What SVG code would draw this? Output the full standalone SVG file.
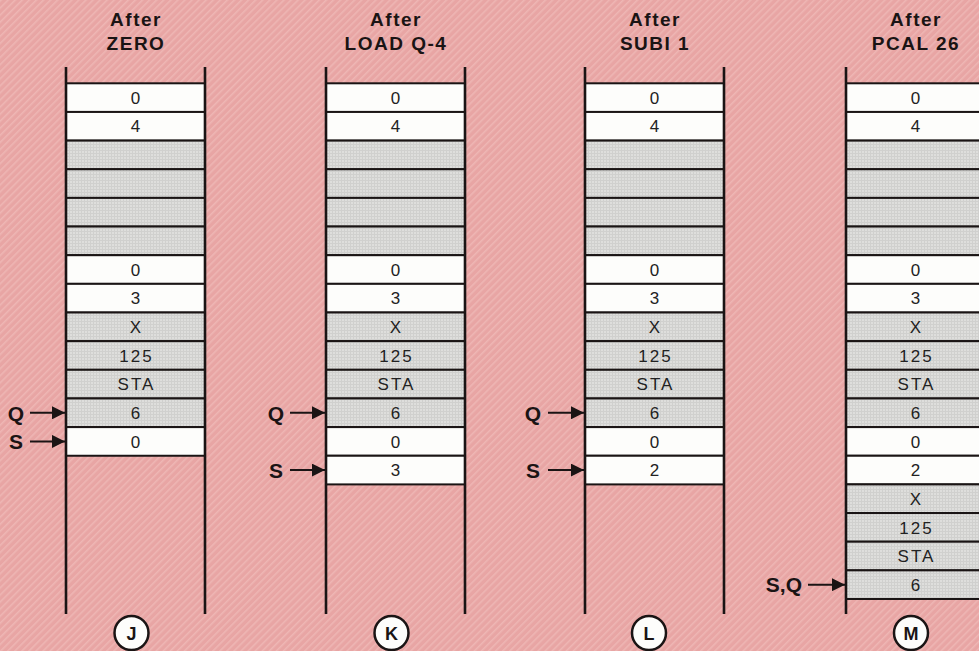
<svg xmlns="http://www.w3.org/2000/svg" width="979" height="651" viewBox="0 0 979 651">
<defs>
<pattern id="bg" width="5" height="5" patternUnits="userSpaceOnUse" patternTransform="rotate(45)">
<rect width="5" height="5" fill="#e8a5a4"/>
<rect width="1.6" height="5" fill="#eeb6b4"/>
</pattern>
<pattern id="grid" width="3" height="3" patternUnits="userSpaceOnUse">
<rect width="3" height="3" fill="#dededc"/>
<path d="M0 0.5H3M0.5 0V3" stroke="#d0d0ce" stroke-width="1"/>
</pattern>
<marker id="ah" markerUnits="userSpaceOnUse" markerWidth="14" markerHeight="13" refX="13" refY="6.5" orient="auto">
<path d="M0 0L13 6.5L0 13Z" fill="#1a1414"/>
</marker>
</defs>
<style>
.w{fill:#fdfdfb;stroke:#1a1414;stroke-width:2}
.g{fill:url(#grid);stroke:#1a1414;stroke-width:2}
.rail{stroke:#1a1414;stroke-width:2.6}
.v{font-family:"Liberation Sans",Arial,sans-serif;font-size:17px;fill:#222;text-anchor:middle;letter-spacing:2px}
.t{font-family:"Liberation Sans",Arial,sans-serif;font-size:19px;font-weight:bold;fill:#1a1414;text-anchor:middle;letter-spacing:1.5px}
.lb{font-family:"Liberation Sans",Arial,sans-serif;font-size:21px;font-weight:bold;fill:#1a1414;text-anchor:end}
.c{fill:#fdfdfb;stroke:#1a1414;stroke-width:2.5}
.cl{font-family:"Liberation Sans",Arial,sans-serif;font-size:18px;font-weight:bold;fill:#1a1414;text-anchor:middle}
.ar{stroke:#1a1414;stroke-width:2;marker-end:url(#ah)}
</style>
<rect width="979" height="651" fill="url(#bg)"/>

<g id="colJ" transform="translate(66,0)">
<text class="t" x="70" y="26">After</text>
<text class="t" x="70" y="50">ZERO</text>
<rect class="w" x="0" y="83.3" width="139" height="28.65"/><text class="v" x="70.5" y="103.8">0</text>
<rect class="w" x="0" y="111.95" width="139" height="28.65"/><text class="v" x="70.5" y="132.45">4</text>
<rect class="g" x="0" y="140.6" width="139" height="28.65"/>
<rect class="g" x="0" y="169.25" width="139" height="28.65"/>
<rect class="g" x="0" y="197.9" width="139" height="28.65"/>
<rect class="g" x="0" y="226.55" width="139" height="28.65"/>
<rect class="w" x="0" y="255.2" width="139" height="28.65"/><text class="v" x="70.5" y="275.7">0</text>
<rect class="w" x="0" y="283.85" width="139" height="28.65"/><text class="v" x="70.5" y="304.35">3</text>
<rect class="g" x="0" y="312.5" width="139" height="28.65"/><text class="v" x="70.5" y="333">X</text>
<rect class="g" x="0" y="341.15" width="139" height="28.65"/><text class="v" x="70.5" y="361.65">125</text>
<rect class="g" x="0" y="369.8" width="139" height="28.65"/><text class="v" x="70.5" y="390.3">STA</text>
<rect class="g" x="0" y="398.45" width="139" height="28.65"/><text class="v" x="70.5" y="418.95">6</text>
<rect class="w" x="0" y="427.1" width="139" height="28.65"/><text class="v" x="70.5" y="447.6">0</text>
<line class="rail" x1="0" y1="67" x2="0" y2="614"/>
<line class="rail" x1="139" y1="67" x2="139" y2="614"/>
<circle class="c" cx="65.5" cy="633" r="17"/><text class="cl" x="65.5" y="639.5">J</text>
</g>

<g id="colK" transform="translate(326,0)">
<text class="t" x="70" y="26">After</text>
<text class="t" x="70" y="50">LOAD Q-4</text>
<rect class="w" x="0" y="83.3" width="139" height="28.65"/><text class="v" x="70.5" y="103.8">0</text>
<rect class="w" x="0" y="111.95" width="139" height="28.65"/><text class="v" x="70.5" y="132.45">4</text>
<rect class="g" x="0" y="140.6" width="139" height="28.65"/>
<rect class="g" x="0" y="169.25" width="139" height="28.65"/>
<rect class="g" x="0" y="197.9" width="139" height="28.65"/>
<rect class="g" x="0" y="226.55" width="139" height="28.65"/>
<rect class="w" x="0" y="255.2" width="139" height="28.65"/><text class="v" x="70.5" y="275.7">0</text>
<rect class="w" x="0" y="283.85" width="139" height="28.65"/><text class="v" x="70.5" y="304.35">3</text>
<rect class="g" x="0" y="312.5" width="139" height="28.65"/><text class="v" x="70.5" y="333">X</text>
<rect class="g" x="0" y="341.15" width="139" height="28.65"/><text class="v" x="70.5" y="361.65">125</text>
<rect class="g" x="0" y="369.8" width="139" height="28.65"/><text class="v" x="70.5" y="390.3">STA</text>
<rect class="g" x="0" y="398.45" width="139" height="28.65"/><text class="v" x="70.5" y="418.95">6</text>
<rect class="w" x="0" y="427.1" width="139" height="28.65"/><text class="v" x="70.5" y="447.6">0</text>
<rect class="w" x="0" y="455.75" width="139" height="28.65"/><text class="v" x="70.5" y="476.25">3</text>
<line class="rail" x1="0" y1="67" x2="0" y2="614"/>
<line class="rail" x1="139" y1="67" x2="139" y2="614"/>
<circle class="c" cx="65.5" cy="633" r="17"/><text class="cl" x="65.5" y="639.5">K</text>
</g>

<g id="colL" transform="translate(585,0)">
<text class="t" x="70" y="26">After</text>
<text class="t" x="70" y="50">SUBI 1</text>
<rect class="w" x="0" y="83.3" width="139" height="28.65"/><text class="v" x="70.5" y="103.8">0</text>
<rect class="w" x="0" y="111.95" width="139" height="28.65"/><text class="v" x="70.5" y="132.45">4</text>
<rect class="g" x="0" y="140.6" width="139" height="28.65"/>
<rect class="g" x="0" y="169.25" width="139" height="28.65"/>
<rect class="g" x="0" y="197.9" width="139" height="28.65"/>
<rect class="g" x="0" y="226.55" width="139" height="28.65"/>
<rect class="w" x="0" y="255.2" width="139" height="28.65"/><text class="v" x="70.5" y="275.7">0</text>
<rect class="w" x="0" y="283.85" width="139" height="28.65"/><text class="v" x="70.5" y="304.35">3</text>
<rect class="g" x="0" y="312.5" width="139" height="28.65"/><text class="v" x="70.5" y="333">X</text>
<rect class="g" x="0" y="341.15" width="139" height="28.65"/><text class="v" x="70.5" y="361.65">125</text>
<rect class="g" x="0" y="369.8" width="139" height="28.65"/><text class="v" x="70.5" y="390.3">STA</text>
<rect class="g" x="0" y="398.45" width="139" height="28.65"/><text class="v" x="70.5" y="418.95">6</text>
<rect class="w" x="0" y="427.1" width="139" height="28.65"/><text class="v" x="70.5" y="447.6">0</text>
<rect class="w" x="0" y="455.75" width="139" height="28.65"/><text class="v" x="70.5" y="476.25">2</text>
<line class="rail" x1="0" y1="67" x2="0" y2="614"/>
<line class="rail" x1="139" y1="67" x2="139" y2="614"/>
<circle class="c" cx="64" cy="633" r="17"/><text class="cl" x="64" y="639.5">L</text>
</g>

<g id="colM" transform="translate(846,0)">
<text class="t" x="70" y="26">After</text>
<text class="t" x="70" y="50">PCAL 26</text>
<rect class="w" x="0" y="83.3" width="139" height="28.65"/><text class="v" x="70.5" y="103.8">0</text>
<rect class="w" x="0" y="111.95" width="139" height="28.65"/><text class="v" x="70.5" y="132.45">4</text>
<rect class="g" x="0" y="140.6" width="139" height="28.65"/>
<rect class="g" x="0" y="169.25" width="139" height="28.65"/>
<rect class="g" x="0" y="197.9" width="139" height="28.65"/>
<rect class="g" x="0" y="226.55" width="139" height="28.65"/>
<rect class="w" x="0" y="255.2" width="139" height="28.65"/><text class="v" x="70.5" y="275.7">0</text>
<rect class="w" x="0" y="283.85" width="139" height="28.65"/><text class="v" x="70.5" y="304.35">3</text>
<rect class="g" x="0" y="312.5" width="139" height="28.65"/><text class="v" x="70.5" y="333">X</text>
<rect class="g" x="0" y="341.15" width="139" height="28.65"/><text class="v" x="70.5" y="361.65">125</text>
<rect class="g" x="0" y="369.8" width="139" height="28.65"/><text class="v" x="70.5" y="390.3">STA</text>
<rect class="g" x="0" y="398.45" width="139" height="28.65"/><text class="v" x="70.5" y="418.95">6</text>
<rect class="w" x="0" y="427.1" width="139" height="28.65"/><text class="v" x="70.5" y="447.6">0</text>
<rect class="w" x="0" y="455.75" width="139" height="28.65"/><text class="v" x="70.5" y="476.25">2</text>
<rect class="g" x="0" y="484.4" width="139" height="28.65"/><text class="v" x="70.5" y="504.9">X</text>
<rect class="g" x="0" y="513.05" width="139" height="28.65"/><text class="v" x="70.5" y="533.55">125</text>
<rect class="g" x="0" y="541.7" width="139" height="28.65"/><text class="v" x="70.5" y="562.2">STA</text>
<rect class="g" x="0" y="570.35" width="139" height="28.65"/><text class="v" x="70.5" y="590.85">6</text>
<line class="rail" x1="0" y1="67" x2="0" y2="614"/>
<line class="rail" x1="139" y1="67" x2="139" y2="614"/>
<circle class="c" cx="65" cy="633" r="17"/><text class="cl" x="65" y="639.5">M</text>
</g>

<g id="connectors">
<text class="lb" x="24" y="420.5">Q</text><line class="ar" x1="30" y1="412.8" x2="65" y2="412.8"/>
<text class="lb" x="23" y="449">S</text><line class="ar" x1="30" y1="441.4" x2="65" y2="441.4"/>
<text class="lb" x="284" y="420.5">Q</text><line class="ar" x1="290" y1="412.8" x2="325" y2="412.8"/>
<text class="lb" x="283" y="477.5">S</text><line class="ar" x1="290" y1="470.1" x2="325" y2="470.1"/>
<text class="lb" x="541" y="420.5">Q</text><line class="ar" x1="548" y1="412.8" x2="584" y2="412.8"/>
<text class="lb" x="540" y="477.5">S</text><line class="ar" x1="548" y1="470.1" x2="584" y2="470.1"/>
<text class="lb" x="802" y="592.3">S,Q</text><line class="ar" x1="808" y1="584.7" x2="845" y2="584.7"/>
</g>
</svg>
